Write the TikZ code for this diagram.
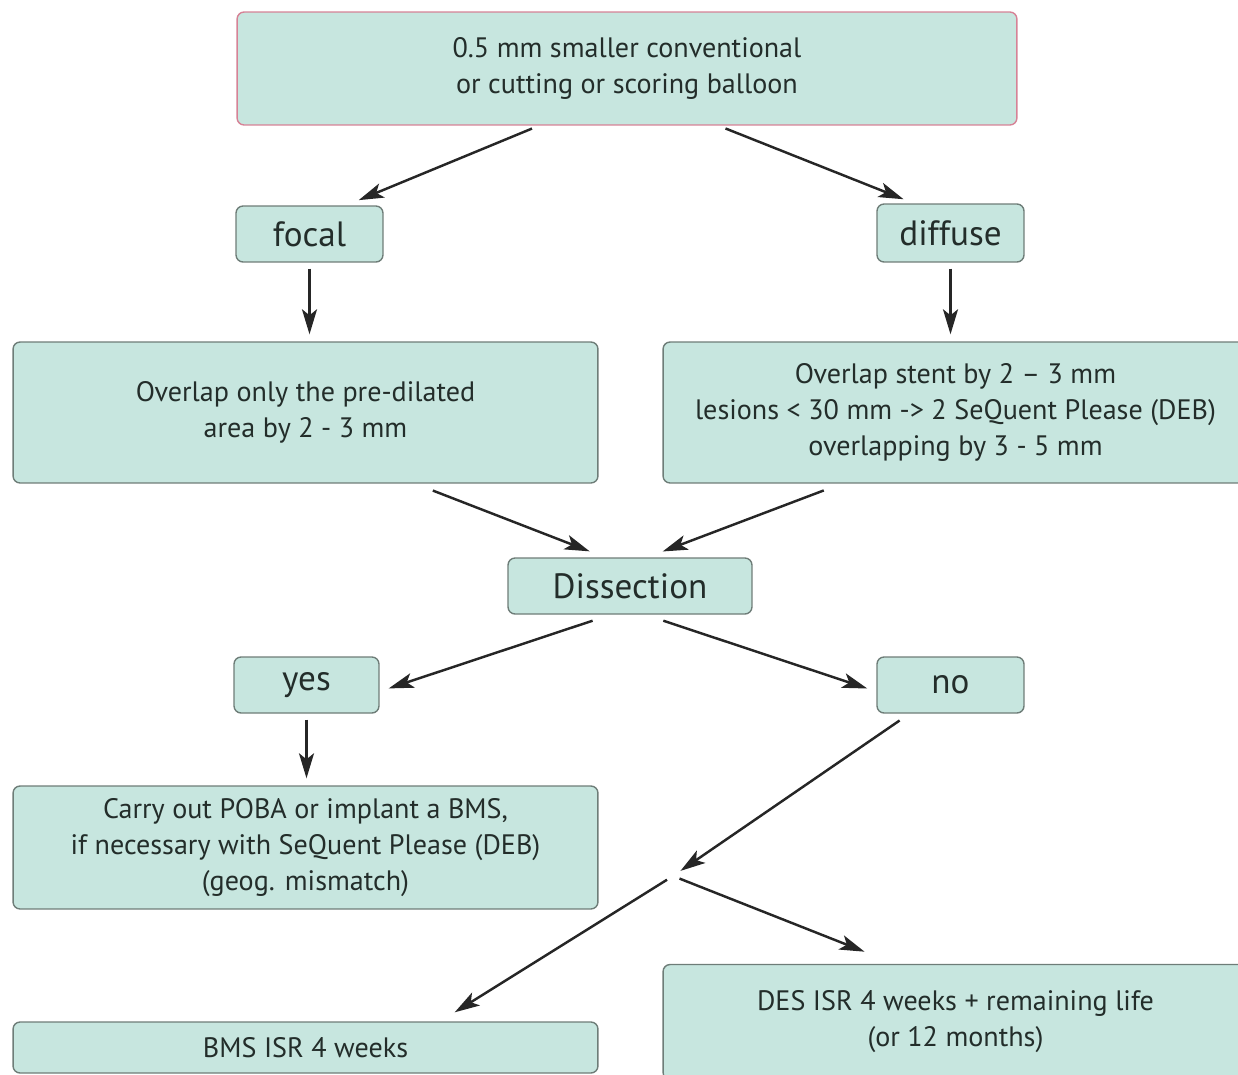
\documentclass[tikz,border=0pt]{standalone}
\usepackage{fontspec}
\setmainfont{PT Sans}
\usetikzlibrary{arrows.meta}
\definecolor{boxfill}{RGB}{199,230,223}
\definecolor{boxline}{RGB}{110,125,120}
\definecolor{topline}{RGB}{214,130,150}
\definecolor{txt}{RGB}{35,45,42}

\begin{document}
\begin{tikzpicture}[
    x=0.02cm, y=-0.02cm,
    box/.style={draw=boxline, line width=0.8pt, fill=boxfill, rounded corners=4pt,
        text=txt, align=center, inner sep=0pt, font=\fontsize{16}{20.5}\selectfont},
    big/.style={box, font=\fontsize{20}{24}\selectfont},
    arr/.style={line width=1.4pt, black!85, -{Stealth[length=0.5cm, width=0.3cm, inset=0.12cm]}},
  ]
  \useasboundingbox (0,0) rectangle (1238,1075);
  \clip (0,0) rectangle (1238,1075);

  \node[box, draw=topline, minimum width=15.6cm, minimum height=2.26cm] (top) at (627,68.5)
  {0.5 mm smaller conventional\\or cutting or scoring balloon};
  \node[big, minimum width=2.94cm, minimum height=1.12cm] (focal) at (309.5,234) {focal};
  \node[big, minimum width=2.94cm, minimum height=1.16cm] (diffuse) at (950.5,233) {diffuse};
  \node[box, minimum width=11.7cm, minimum height=2.82cm] (overlapL) at (305.5,412.5)
  {Overlap only the pre-dilated\\area by 2 - 3 mm};
  \node[box, minimum width=11.7cm, minimum height=2.82cm] (overlapR) at (955.5,412.5)
  {Overlap stent by 2 – 3 mm\\lesions < 30 mm -> 2 SeQuent Please (DEB)\\overlapping by 3 - 5 mm};
  \node[big, minimum width=4.88cm, minimum height=1.12cm] (dissection) at (630,586) {Dissection};
  \node[big, minimum width=2.9cm, minimum height=1.12cm] (yes) at (306.5,685) {yes};
  \node[big, minimum width=2.94cm, minimum height=1.12cm] (no) at (950.5,685) {no};
  \node[box, minimum width=11.7cm, minimum height=2.46cm] (poba) at (305.5,847.5)
  {Carry out POBA or implant a BMS,\\if necessary with SeQuent Please (DEB)\\(geog. mismatch)};
  \node[box, minimum width=11.7cm, minimum height=1.02cm] (bms) at (305.5,1047.5) {BMS ISR 4 weeks};
  \node[box, minimum width=11.7cm, minimum height=2.3cm] (des) at (955.5,1022)
  {DES ISR 4 weeks + remaining life\\(or 12 months)};
  \coordinate (split) at (673,876);

  \draw[arr, shorten <=0.15cm, shorten >=0.27cm] (top.213) -- (focal.38);
  \draw[arr, shorten <=0.15cm, shorten >=0.22cm] (top.-32) -- (diffuse.141);
  \foreach \a/\b in {focal/overlapL, diffuse/overlapR, yes/poba} {
      \draw[arr, shorten <=0.12cm, shorten >=0.14cm] (\a.south) -- (\a.south |- \b.north);
    }
  \draw[arr, shorten <=0.38cm, shorten >=0.33cm] (overlapL.-33.5) -- (dissection.131);
  \draw[arr, shorten <=0.38cm, shorten >=0.33cm] (overlapR.212) -- (dissection.59);
  \draw[arr, shorten <=0.38cm, shorten >=0.19cm] (dissection.236) -- (yes.-5);
  \draw[arr, shorten <=0.38cm, shorten >=0.19cm] (dissection.-62) -- (no.185);
  \draw[arr, shorten <=0.24cm, shorten >=0.18cm] (no.215) -- (split);
  \draw[arr, shorten <=0.14cm, shorten >=0.34cm] (split) -- (bms.11);
  \draw[arr, shorten <=0.14cm, shorten >=0.66cm] (split) -- (des.136);
\end{tikzpicture}
\end{document}
